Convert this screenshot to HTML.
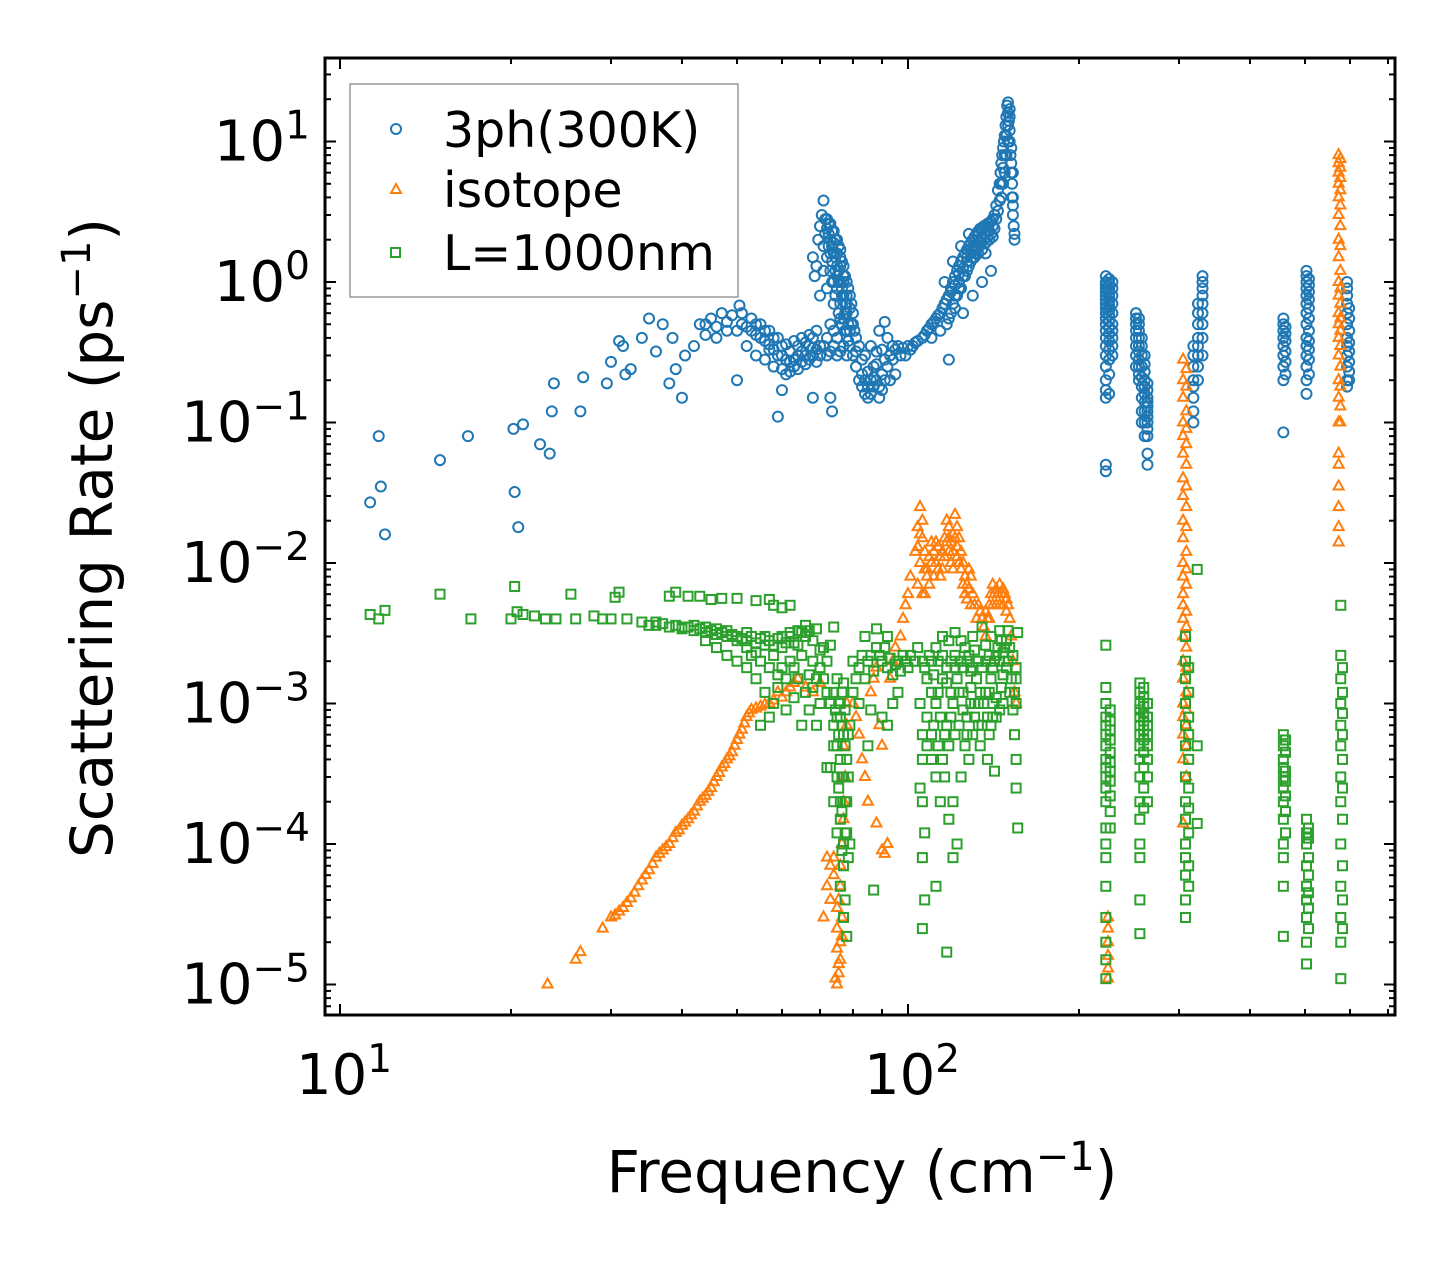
<!DOCTYPE html>
<html><head><meta charset="utf-8">
<style>
html,body{margin:0;padding:0;background:#fff;}
svg{display:block;font-family:"DejaVu Sans","Liberation Sans",sans-serif;}
</style></head>
<body>
<svg id="chart" width="1455" height="1265" viewBox="0 0 1455 1265" xmlns="http://www.w3.org/2000/svg">
<rect x="0" y="0" width="1455" height="1265" fill="#fff"/>
<g id="marks"></g>
<g id="ticks"></g>
<rect x="325" y="58" width="1070" height="957" fill="none" stroke="#000" stroke-width="3"/>
<text transform="translate(112,538) rotate(-90)" text-anchor="middle" font-size="58">Scattering Rate (ps<tspan dy="-22" font-size="40">−1</tspan><tspan dy="22">)</tspan></text>
<text x="862" y="1192" text-anchor="middle" font-size="58">Frequency (cm<tspan dy="-22" font-size="40">−1</tspan><tspan dy="22">)</tspan></text>
<g>
<rect x="350" y="84" width="388" height="213" fill="#fff" stroke="#999" stroke-width="1.5"/>
<circle cx="396" cy="129" r="5" fill="none" stroke="#1f77b4" stroke-width="2"/>
<text x="443" y="147" font-size="49">3ph(300K)</text>
<polygon points="396,184 401,193 391,193" fill="none" stroke="#ff7f0e" stroke-width="2"/>
<text x="443" y="207" font-size="49">isotope</text>
<rect x="391" y="248" width="9" height="9" fill="none" stroke="#2ca02c" stroke-width="2"/>
<text x="443" y="270" font-size="49">L=1000nm</text>
</g>
</svg>
<script>
const xTickValues=[10,100];
const xTickLabels=["10","10"];
const xTickExps=["1","2"];
const yTickExps=[1,0,-1,-2,-3,-4,-5];
const yTickLabels=["1","0","−1","−2","−3","−4","−5"];

const threePhPoints=[[11.3,0.027],[11.7,0.08],[11.8,0.035],[12,0.016],[15,0.054],[16.8,0.08],[20.2,0.09],[20.3,0.032],[20.6,0.018],[21,0.097],[22.5,0.07],[23.4,0.06],[23.6,0.12],[23.8,0.19],[26.5,0.12],[26.8,0.21],[29.5,0.19],[30,0.27],[31,0.38],[31.5,0.35],[31.8,0.22],[32.5,0.24],[34,0.4],[35,0.55],[36,0.32],[37,0.5],[38,0.19],[38.5,0.4],[39,0.24],[40,0.15],[40.5,0.3],[42,0.35],[43,0.5],[44,0.5],[45,0.55],[46,0.48],[47,0.6],[48,0.52],[49,0.58],[50,0.2],[50.5,0.68],[51,0.5],[52,0.48],[53,0.45],[54,0.42],[55,0.4],[56,0.38],[57,0.36],[58,0.33],[59,0.11],[60,0.17],[59,0.3],[60,0.3],[61,0.28],[62,0.27],[63,0.28],[64,0.3],[65,0.32],[66,0.3],[67,0.35],[68,0.3],[69,0.33],[70,0.35],[52,0.35],[54,0.3],[56,0.28],[58,0.25],[60,0.24],[62,0.23],[64,0.24],[66,0.26],[68,0.4],[55,0.5],[57,0.45],[59,0.4],[61,0.36],[63,0.38],[65,0.4],[67,0.42],[69,0.45],[68,0.15],[72,0.4],[73,0.15],[73.5,0.12],
[44,0.42],[46,0.4],[48,0.45],[50,0.45],[51,0.6],[53,0.55],[54,0.5],[56,0.45],[57,0.33],[58,0.4],[60,0.35],[61,0.22],[62,0.32],[63,0.25],[64,0.35],[65,0.27],[66,0.37],[67,0.28],[68,0.34],[69,0.27],[70,0.3],[71,0.35],[72,0.3],[73,0.32],[74,0.35],[75,0.3],[76,0.32],[77,0.35],[78,0.3],[79,0.35],
[68,1.5],[68.5,1.1],[69,1.3],[69.5,2.0],[70,2.5],[70.5,3.0],[71,3.8],[71.5,2.8],[72,2.4],[72.5,2.2],[73,2.0],[73.5,1.8],[74,1.6],[74.5,1.5],[75,1.3],[75.5,1.2],[76,1.0],[76.5,0.9],[77,0.8],[77.5,0.7],[78,0.6],[78.5,0.5],[79,0.45],[72,1.5],[73,1.2],[74,1.0],[75,0.9],[76,0.7],[77,0.55],[78,0.45],[71,1.8],[72,2.8],[73,2.6],[74,2.3],[75,2.0],[76,1.7],[77,1.3],[78,1.0],[79,0.8],[80,0.6],[73,1.6],[74,1.9],[75,1.6],[76,1.3],[77,1.0],[78,0.8],[79,0.65],[80,0.5],[81,0.4],[70,0.8],[71,1.2],[72,0.9],[74,0.7],[76,0.55],[75,0.4],[73,0.5],[74,0.45],[75,1.1],[76,1.5],[77,1.1],[78,0.7],
[71.5,2.2],[72.5,1.8],[73.5,1.4],[74.5,1.2],[75.5,1.0],[76.5,0.8],[77.5,0.6],[72.5,2.6],[73.5,2.3],[74.5,2.0],[75.5,1.8],[76.5,1.4],[77.5,1.1],[78.5,0.9],[79.5,0.7],[73.5,1.0],[74.5,0.8],[75.5,0.6],[76.5,0.5],[77.5,0.45],[78.5,0.38],[79.5,0.5],[80.5,0.45],
[80,0.3],[81,0.25],[82,0.2],[83,0.18],[84,0.16],[85,0.15],[86,0.2],[87,0.25],[88,0.2],[89,0.18],[90,0.17],[91,0.2],[92,0.25],[93,0.3],[94,0.35],[95,0.33],[82,0.35],[84,0.3],[86,0.35],[88,0.32],[90,0.33],[92,0.4],[89,0.45],[91,0.52],[81,0.32],[83,0.28],[85,0.23],[87,0.18],[89,0.15],[93,0.2],[95,0.22],[97,0.3],[99,0.3],[100,0.35],[102,0.35],
[83,0.22],[84,0.2],[85,0.18],[86,0.16],[87,0.21],[88,0.26],[90,0.22],[91,0.28],[94,0.28],[96,0.35],[98,0.34],[101,0.33],[103,0.37],
[104,0.38],[106,0.4],[108,0.45],[110,0.5],[112,0.55],[114,0.6],[116,0.7],[118,0.8],[119,0.9],[120,1.0],[121,1.1],[122,1.2],[123,1.3],[124,1.4],[125,1.5],[126,1.6],[127,1.7],[128,1.8],[129,1.9],[130,2.0],[131,2.1],[132,2.2],[133,2.3],[134,2.4],[135,2.4],[136,2.5],[137,2.5],[138,2.6],[139,2.6],[140,2.7],[141,2.8],[142,3.0],[110,0.4],[114,0.45],[118,0.55],[120,0.7],[122,0.8],[124,0.9],[126,1.1],[128,1.3],[130,1.5],[132,1.7],[134,1.9],[136,2.0],[138,2.1],[140,2.2],[142,2.4],[118,0.28],[125,0.6],[130,0.8],[135,1.0],[140,1.2],[137,1.6],[116,1.0],[120,1.4],[124,1.8],[128,2.2],[121,0.65],[123,1.0],[127,1.4],[131,1.8],[133,2.0],
[107,0.42],[109,0.47],[111,0.52],[113,0.58],[115,0.65],[117,0.75],[119,0.85],[121,0.95],[123,1.15],[125,1.25],[127,1.5],[129,1.6],[131,1.7],[133,1.9],[135,2.1],[137,2.2],[139,2.3],[141,2.5],[143,2.8],[117,0.5],[119,0.6],[121,0.8],[123,0.9],[125,1.1],[127,1.2],[129,1.4],[131,1.5],[133,1.6],[135,1.7],[137,1.9],[139,2.0],[141,2.1],
[143,3.5],[144,4.5],[145,5],[145.5,6],[146,7],[146.5,8],[147,9],[147.5,10],[148,11],[148.5,13],[149,15],[149.5,18],[150,19],[150,16],[150.5,14],[151,12],[151,10],[151.5,8],[152,7],[152,6],[152.5,5],[152.5,4],[153,3.5],[153,3],[153.5,2.5],[154,2.2],[154,2],[148,6],[149,8],[150,10],[151,15],[147,5],[152,9],[153,6],[153,4],[144,3.2],[146,4],[147,6.5],[148,8],[149,11],[150,13],[151,17],[146,5],[145,3.8]];
const threePhColumns=[
[223,[0.045,0.05,0.15,0.17,0.2,0.25,0.3,0.35,0.4,0.45,0.5,0.55,0.6,0.65,0.7,0.75,0.8,0.85,0.9,0.95,1.0,1.1]],
[226,[0.16,0.22,0.28,0.33,0.38,0.43,0.48,0.53,0.58,0.63,0.68,0.73,0.78,0.83,0.88,0.93,0.98,1.05]],
[229,[0.3,0.35,0.4,0.45,0.5,0.6,0.7,0.8,0.9,1.0]],
[252,[0.25,0.3,0.35,0.4,0.45,0.5,0.55,0.6]],
[255,[0.2,0.22,0.25,0.28,0.32,0.35,0.4,0.45,0.5,0.55]],
[258,[0.1,0.12,0.15,0.18,0.21,0.25,0.3,0.35,0.4]],
[261,[0.08,0.1,0.12,0.14,0.16,0.18,0.2,0.23,0.26,0.3]],
[264,[0.05,0.06,0.08,0.09,0.1,0.11,0.12,0.13,0.14,0.15,0.17,0.19]],
[318,[0.1,0.12,0.15,0.18,0.2,0.25,0.3,0.35]],
[324,[0.2,0.25,0.3,0.35,0.4,0.5,0.6,0.7]],
[330,[0.3,0.4,0.5,0.6,0.7,0.8,0.9,1.0,1.1]],
[458,[0.085,0.2,0.25,0.3,0.35,0.4,0.45,0.5,0.55]],
[462,[0.22,0.27,0.32,0.38,0.43,0.48]],
[503,[0.16,0.2,0.25,0.3,0.35,0.4,0.5,0.6,0.7,0.8,0.9,1.0,1.1,1.2]],
[508,[0.22,0.28,0.33,0.38,0.45,0.55,0.65,0.75,0.85,0.95,1.05]],
[593,[0.18,0.2,0.25,0.3,0.35,0.4,0.5,0.6,0.7,0.8,0.9,1.0]],
[598,[0.2,0.23,0.27,0.32,0.37,0.45,0.55,0.65]]];

const isotopePoints=[[23.2,1e-5],[26,1.5e-5],[26.5,1.7e-5],[29,2.5e-5],[30,3e-5],[31,3.3e-5],[32,3.8e-5],[33,4.5e-5],[34,5.5e-5],[35,6.5e-5],[36,8e-5],[37,9e-5],[38,1e-4],[39,1.2e-4],[40,1.35e-4],[41,1.5e-4],[42,1.7e-4],[43,2e-4],[44,2.2e-4],[45,2.5e-4],[46,3e-4],[47,3.5e-4],[48,4e-4],[49,4.5e-4],[50,5.5e-4],[51,6.5e-4],[52,8e-4],[53,9e-4],[55,9.5e-4],[57,1e-3],[60,1.1e-3],[62,1.3e-3],[64,1.5e-3],[66,1.3e-3],[68,1.2e-3],[70,1.4e-3],
[30.5,3.1e-5],[31.5,3.5e-5],[32.5,4.1e-5],[33.5,5e-5],[34.5,6e-5],[35.5,7.2e-5],[36.5,8.5e-5],[37.5,9.5e-5],[38.5,1.1e-4],[39.5,1.25e-4],[40.5,1.42e-4],[41.5,1.6e-4],[42.5,1.85e-4],[43.5,2.1e-4],[44.5,2.35e-4],[45.5,2.75e-4],[46.5,3.2e-4],[47.5,3.7e-4],[48.5,4.2e-4],[49.5,5e-4],[50.5,6e-4],[51.5,7.2e-4],[52.5,8.5e-4],[54,9.2e-4],[56,9.8e-4],[58,1.05e-3],[59,1.2e-3],[61,1.2e-3],[63,1.4e-3],
[75,1e-5],[75.5,1.2e-5],[76,1.5e-5],[76,2e-5],[75,2.5e-5],[76.5,3e-5],[75.5,4e-5],[76,5e-5],[76,7e-5],[76.5,1e-4],[77,1.5e-4],[77,2e-4],[77.5,3e-4],[77,5e-4],[78,7e-4],[78,1e-3],[71,3e-5],[72,5e-5],[72,8e-5],[73,4e-5],[74,6e-5],[74.5,1.1e-5],[75.5,1.4e-5],[75,1.8e-5],[76.5,2.2e-5],[75,3.5e-5],[74,8e-5],[73,7e-5],
[80,1e-3],[81,8e-4],[82,6e-4],[83,4e-4],[84,3e-4],[85,2e-4],[86,1.2e-3],[87,1.5e-3],[88,1.8e-3],[89,7e-4],[90,5e-4],[91,8.5e-5],[92,1e-4],[93,1.5e-3],[94,2e-3],[95,2.5e-3],[97,3e-3],[98,4e-3],[99,5e-3],[100,6e-3],[101,8e-3],[88,1.4e-4],[90,9e-5],
[103,1.2e-2],[104,1.8e-2],[105,2.5e-2],[106,1.5e-2],[107,1.2e-2],[108,9e-3],[109,7e-3],[110,1e-2],[111,1.2e-2],[112,1.4e-2],[113,1.3e-2],[114,1.1e-2],[115,9e-3],[116,1.5e-2],[117,2e-2],[118,1.8e-2],[119,1.4e-2],[120,1.2e-2],[121,2.2e-2],[122,1.8e-2],[123,1.5e-2],[124,1.2e-2],[125,1e-2],[126,8e-3],[127,7e-3],[128,9e-3],[129,8e-3],[130,6e-3],[131,5e-3],[132,4e-3],[133,5e-3],[134,4.5e-3],[135,4e-3],[136,3.5e-3],[137,3e-3],[138,4e-3],[139,5e-3],[140,6e-3],[141,7e-3],[142,6e-3],[143,5e-3],[144,6e-3],[145,7e-3],[146,6e-3],[147,5e-3],[148,6e-3],[149,5.5e-3],[150,5e-3],[151,4e-3],[152,3e-3],[153,2e-3],[154,1.2e-3],[155,1e-3],[104,7e-3],[106,6e-3],[108,8e-3],[105,1e-2],[107,6e-3],[110,1.4e-2],[112,1e-2],[114,8e-3],[118,1.2e-2],[120,9e-3],[122,1.3e-2],
[104,1.3e-2],[105,1.6e-2],[106,2e-2],[107,9e-3],[109,1.1e-2],[111,8e-3],[113,9e-3],[115,1.2e-2],[116,1.1e-2],[117,1.4e-2],[118,1.5e-2],[119,1e-2],[120,1.6e-2],[121,1.5e-2],[122,1.1e-2],[123,1e-2],[124,9e-3],[125,7e-3],[126,6e-3],[127,5.5e-3],[128,6.5e-3],[129,5e-3],[141,5e-3],[143,6.5e-3],[145,5e-3],[147,6.5e-3],[149,4.5e-3],[139,4e-3],[137,4.5e-3]];
const isotopeColumns=[
[225,[1.1e-5,1.3e-5,1.6e-5,2e-5,2.5e-5,3e-5]],
[305,[1.4e-4,4e-4,6e-4,8e-4,1e-3,1.5e-3,2e-3,3e-3,4e-3,5e-3,6e-3,8e-3,1e-2,1.5e-2,2e-2,3e-2,4e-2,6e-2,8e-2,0.1,0.15,0.2,0.28]],
[309,[3e-4,5e-4,7e-4,9e-4,1.2e-3,1.8e-3,2.5e-3,3.5e-3,4.5e-3,7e-3,9e-3,1.2e-2,1.8e-2,2.5e-2,3.5e-2,5e-2,7e-2,0.09,0.12,0.18,0.24]],
[573,[1.4e-2,1.8e-2,2.5e-2,3.5e-2,5e-2,6e-2,0.1,0.15,0.2,0.3,0.4,0.5,0.6,0.8,1,1.5,2,3,4,5,6,7,8]],
[577,[0.1,0.13,0.18,0.25,0.35,0.45,0.55,0.7,0.9,1.2,1.8,2.5,3.5,4.5,5.5,6.5,7.5]]];

const boundaryPoints=[[11.3,4.3e-3],[11.7,4e-3],[12,4.6e-3],[15,6e-3],[17,4e-3],[20,4e-3],[20.3,6.8e-3],[20.5,4.5e-3],[21,4.3e-3],[22,4.2e-3],[23,4e-3],[24,4e-3],[25.5,6e-3],[26,4e-3],[28,4.2e-3],[29,4e-3],[30,4e-3],[30.5,5.7e-3],[31,6.2e-3],[32,4e-3],[34,3.8e-3],[35,3.6e-3],[36,3.8e-3],[38,5.8e-3],[39,6.2e-3],[40,3.5e-3],[41,5.8e-3],[42,3.6e-3],[43,5.8e-3],[44,3.5e-3],[45,5.5e-3],[46,3.4e-3],[47,5.6e-3],[48,3.3e-3],[50,5.6e-3],[52,3.2e-3],[54,5.4e-3],[56,3e-3],[57,5.5e-3],[58,5e-3],[60,4.8e-3],[62,5e-3],
[36,3.6e-3],[37,3.7e-3],[38,3.5e-3],[39,3.6e-3],[40,3.4e-3],[41,3.5e-3],[42,3.3e-3],[43,3.4e-3],[44,3.2e-3],[45,3.3e-3],[46,3.1e-3],[47,3.2e-3],[48,3e-3],[49,3.1e-3],[50,3e-3],[51,2.9e-3],[52,2.8e-3],[53,3e-3],[54,2.7e-3],[55,2.9e-3],[56,2.6e-3],[57,2.8e-3],[58,2.6e-3],[59,2.9e-3],[60,3e-3],[61,2.7e-3],[62,3.2e-3],[63,2.7e-3],[65,3.2e-3],[67,3.3e-3],[69,3.4e-3],
[44,2.8e-3],[46,2.5e-3],[48,2.2e-3],[50,2e-3],[52,1.8e-3],[54,1.5e-3],[56,1.2e-3],[58,1e-3],[60,2.5e-3],[62,2e-3],[64,1.5e-3],[66,1.2e-3],[68,2e-3],[70,1e-3],[50,2.8e-3],[52,2.5e-3],[54,2.3e-3],[56,2.6e-3],[58,2.2e-3],[60,1.8e-3],[62,3e-3],[64,2.6e-3],[66,3e-3],[68,2.8e-3],[70,2.4e-3],[55,7e-4],[57,8e-4],[59,1.3e-3],[61,9e-4],[63,1.1e-3],[65,7e-4],[67,9e-4],[69,7e-4],[71,1.5e-3],[72,2e-3],[73,2.6e-3],[74,3.5e-3],[66,3.6e-3],[64,3.3e-3],
[53,2.2e-3],[55,2e-3],[57,1.8e-3],[59,1.6e-3],[61,1.5e-3],[63,1.8e-3],[65,2.2e-3],[67,1.6e-3],[69,1.5e-3],[71,2.5e-3],[72,1.2e-3],[70,1.8e-3],[68,1.3e-3],
[73,1e-3],[74,7e-4],[75,5e-4],[75,3e-4],[76,2e-4],[76,1.5e-4],[77,1e-4],[77,7e-5],[76,5e-5],[77,3e-5],[78,2.2e-5],[75,1.2e-4],[74,2e-4],[73,3.5e-4],[72,3.5e-4],[74,1.2e-3],[76,8e-4],[77,6e-4],[78,4e-4],[78,2e-4],[79,1e-4],[79,7e-4],[80,1.2e-3],[76,1e-3],[75,1.5e-3],[77,1.4e-3],[74,5e-4],[75,8e-4],[77,3e-4],[76,4e-4],[78,1.2e-4],
[74.5,9e-4],[75.5,6e-4],[76.5,7e-4],[77.5,5e-4],[78.5,3e-4],[76.5,3e-4],[77.5,2e-4],[75.5,2.5e-4],[76.5,1.7e-4],[77.5,1.2e-4],[78.5,8e-5],[76.5,9e-5],[77.5,4e-5],[75.5,1e-3],[76.5,1.2e-3],[77.5,9e-4],[78.5,6e-4],
[80,2e-3],[82,1.8e-3],[84,1.5e-3],[86,2.2e-3],[88,2.5e-3],[90,2e-3],[92,1.8e-3],[94,1.6e-3],[96,2e-3],[98,2.2e-3],[100,1.8e-3],[84,3e-3],[88,3.4e-3],[92,3e-3],[82,1e-3],[86,9e-4],[90,8e-4],[94,1e-3],[85,5e-4],[87,4.7e-5],[92,7e-4],[96,1.2e-3],
[81,1.5e-3],[83,2.2e-3],[85,2e-3],[87,1.7e-3],[89,2.2e-3],[91,2.5e-3],[93,2.1e-3],[95,1.9e-3],[97,1.7e-3],[99,2e-3],[101,2.2e-3],[103,2e-3],
[104,2.5e-3],[106,2e-3],[108,1.5e-3],[110,1.2e-3],[112,1e-3],[114,8e-4],[116,6e-4],[118,5e-4],[120,1e-3],[122,1.5e-3],[124,2e-3],[126,2.5e-3],[128,2.2e-3],[130,1.8e-3],[132,1.5e-3],[134,1.2e-3],[136,1e-3],[138,8e-4],[140,1.5e-3],[142,2e-3],[144,2.5e-3],[146,2.8e-3],[148,2.5e-3],[150,2e-3],[152,1.5e-3],[154,1.2e-3],[155,1e-3],[156,3.2e-3],[154,6e-4],[155,4e-4],[155,2.5e-4],[156,1.3e-4],
[105,1e-3],[106,6e-4],[106,4e-4],[105,2.5e-4],[106,2e-4],[107,1.2e-4],[106,8e-5],[107,4e-5],[106,2.5e-5],[112,5e-5],[117,1.7e-5],[120,8e-5],[122,1e-4],[112,3e-4],[114,2e-4],[116,3e-4],[118,1.5e-4],[120,2e-4],[124,3e-4],[126,5e-4],[128,4e-4],[130,6e-4],[134,5e-4],[138,4e-4],[140,7e-4],[142,3.3e-4],[146,1.3e-3],[110,2e-3],[112,2.5e-3],[115,3e-3],[118,2.8e-3],[121,3.2e-3],[124,2.8e-3],[130,3e-3],[135,3.5e-3],[140,3e-3],[145,3.3e-3],[150,3.3e-3],
[108,8e-4],[110,6e-4],[113,1.2e-3],[115,1.5e-3],[117,1.8e-3],[119,2e-3],[121,2.2e-3],[125,1.2e-3],[127,8e-4],[129,1.3e-3],[131,1e-3],[133,7e-4],[137,2e-3],[139,1.2e-3],[141,1e-3],[143,8e-4],[147,1.6e-3],[149,1.8e-3],[151,1.2e-3],[153,9e-4],
[107,1.8e-3],[109,2.2e-3],[111,1.6e-3],[113,2e-3],[115,2.2e-3],[117,1.4e-3],[119,1.2e-3],[121,1.8e-3],[123,1.2e-3],[125,1.8e-3],[127,2e-3],[129,1.7e-3],[131,2.4e-3],[133,2e-3],[135,1.8e-3],[137,2.6e-3],[139,2.2e-3],[141,1.8e-3],[143,2.2e-3],[145,2e-3],[147,2.3e-3],[149,2.8e-3],[151,2.5e-3],[153,2.2e-3],[155,1.8e-3],[155,1.5e-3],
[108,5e-4],[110,4e-4],[111,7e-4],[113,5e-4],[115,4e-4],[117,7e-4],[119,8e-4],[121,6e-4],[123,7e-4],[125,9e-4],[127,6e-4],[129,1e-3],[131,8e-4],[133,1e-3],[135,7e-4],[137,1.2e-3],[139,6e-4],[141,8e-4],[143,1.1e-3],[145,9e-4],[147,1e-3]];
const boundaryColumns=[
[223,[1.1e-5,1.5e-5,2e-5,3e-5,5e-5,8e-5,1e-4,1.3e-4,2e-4,2.5e-4,3e-4,3.5e-4,4e-4,5e-4,6e-4,7e-4,8e-4,1e-3,1.3e-3,2.6e-3]],
[227,[1.3e-4,1.7e-4,2.2e-4,2.8e-4,3.3e-4,3.8e-4,4.5e-4,5.5e-4,6.5e-4,7.5e-4,9e-4]],
[256,[2.3e-5,4e-5,8e-5,1e-4,1.5e-4,2e-4,3e-4,4e-4,5e-4,6e-4,7e-4,8e-4,9e-4,1e-3,1.2e-3,1.4e-3]],
[260,[1.8e-4,2.5e-4,3.5e-4,4.5e-4,5.5e-4,6.5e-4,7.5e-4,8.5e-4,9.5e-4,1.1e-3,1.3e-3]],
[264,[2e-4,3e-4,4e-4,5e-4,6e-4,7e-4,8e-4,1e-3]],
[308,[3e-5,4e-5,6e-5,8e-5,1e-4,1.5e-4,2e-4,3e-4,5e-4,7e-4,1e-3,1.5e-3,2e-3,3e-3]],
[312,[5e-5,7e-5,1.2e-4,1.8e-4,2.5e-4,4e-4,6e-4,8e-4,1.2e-3,1.8e-3]],
[323,[9e-3,5e-4,1.4e-4]],
[458,[2.2e-5,5e-5,8e-5,1e-4,1.5e-4,2e-4,2.5e-4,3e-4,3.5e-4,4e-4,5e-4,6e-4]],
[462,[1.2e-4,1.7e-4,2.2e-4,2.8e-4,3.3e-4,4.5e-4,5.5e-4]],
[503,[1.4e-5,2e-5,3e-5,4e-5,5e-5,7e-5,1e-4,1.2e-4,1.5e-4]],
[507,[2.5e-5,3.5e-5,4.5e-5,6e-5,8e-5,1.1e-4,1.3e-4]],
[578,[1.1e-5,2e-5,3e-5,5e-5,1e-4,2e-4,3e-4,5e-4,7e-4,1e-3,1.5e-3,2.2e-3,5e-3]],
[582,[2.5e-5,4e-5,7e-5,1.5e-4,2.5e-4,4e-4,6e-4,8.5e-4,1.2e-3,1.8e-3]]];

const NS="http://www.w3.org/2000/svg";
const L=325,R=1395,T=58,B=1015;
const X0=340,XD=568,Y0=282,YD=140.5;
function xs(f){return X0+XD*Math.log10(f/10);}
function ys(v){return Y0-YD*Math.log10(v);}
const marks=document.getElementById('marks');
const ticks=document.getElementById('ticks');
function mk(tag,attrs,parent){const e=document.createElementNS(NS,tag);for(const k in attrs)e.setAttribute(k,attrs[k]);parent.appendChild(e);return e;}
function expand(points,cols){const out=points.slice();cols.forEach(c=>c[1].forEach(v=>out.push([c[0],v])));return out;}

function drawCircle(p){const e=mk('circle',{cx:xs(p[0]),cy:ys(p[1]),r:5,fill:'none',stroke:'#1f77b4','stroke-width':2},marks);

}
function drawTri(p){const x=xs(p[0]),y=ys(p[1]);const e=mk('polygon',{points:`${x},${y-6} ${x+5},${y+3} ${x-5},${y+3}`,fill:'none',stroke:'#ff7f0e','stroke-width':2},marks);

}
function drawSq(p){const x=xs(p[0]),y=ys(p[1]);const e=mk('rect',{x:x-4.5,y:y-4.5,width:9,height:9,fill:'none',stroke:'#2ca02c','stroke-width':2},marks);

}
expand(threePhPoints,threePhColumns).forEach(drawCircle);
expand(isotopePoints,isotopeColumns).forEach(drawTri);
expand(boundaryPoints,boundaryColumns).forEach(drawSq);

for(let d=1;d<=2;d++){for(let m=1;m<10;m++){const f=Math.pow(10,d)*m;const x=xs(f);if(x<L||x>R)continue;const len=m===1?11:6;
mk('line',{x1:x,y1:B,x2:x,y2:B-len,stroke:'#000','stroke-width':2},ticks);
mk('line',{x1:x,y1:T,x2:x,y2:T+len,stroke:'#000','stroke-width':2},ticks);}}
xTickValues.forEach((v,i)=>{const t=mk('text',{x:xs(v)+4,y:1094,'text-anchor':'middle','font-size':56},ticks);


t.textContent=xTickLabels[i];const s=document.createElementNS(NS,'tspan');s.setAttribute('dy','-22');s.setAttribute('font-size','39');s.textContent=xTickExps[i];t.appendChild(s);});
for(let d=-6;d<=1;d++){for(let m=1;m<10;m++){const v=Math.pow(10,d)*m;const y=ys(v);if(y<T||y>B)continue;const len=m===1?11:6;
mk('line',{x1:L,y1:y,x2:L+len,y2:y,stroke:'#000','stroke-width':2},ticks);
mk('line',{x1:R,y1:y,x2:R-len,y2:y,stroke:'#000','stroke-width':2},ticks);}}
yTickExps.forEach((e,i)=>{const y=ys(Math.pow(10,e));const t=mk('text',{x:310,y:y+19,'text-anchor':'end','font-size':56},ticks);


t.appendChild(document.createTextNode('10'));const s=document.createElementNS(NS,'tspan');s.setAttribute('dy','-22');s.setAttribute('font-size','39');s.textContent=yTickLabels[i];t.appendChild(s);});
</script>
</body></html>
